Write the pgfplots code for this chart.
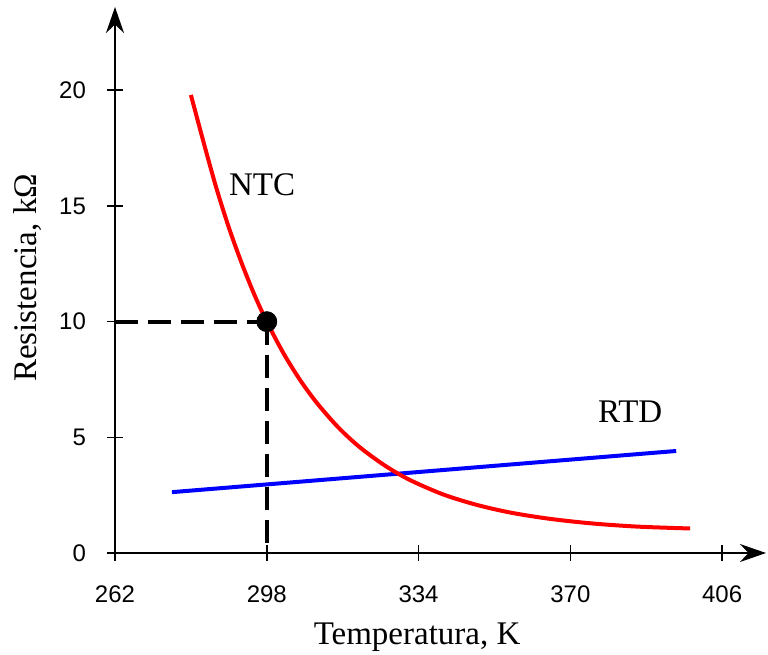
\documentclass[border=0pt]{standalone}
\usepackage{pgfplots}
\pgfplotsset{compat=1.18}
\usetikzlibrary{arrows.meta}
\usepackage{fontspec}
\setmainfont{Liberation Serif}
\newfontfamily\tickfont{Liberation Sans}

\begin{document}
\begin{tikzpicture}
\begin{axis}[
    scale only axis,
    width=325.5pt, height=273pt,
    xmin=262, xmax=416.4,
    ymin=0, ymax=23.6,
    axis lines=left,
    axis line style={line width=0.8pt, -{Stealth[length=13pt,width=9pt]}},
    xtick={262,298,334,370,406},
    ytick={0,5,10,15,20},
    tick align=center,
    major tick length=8pt,
    tick style={line width=0.8pt, black},
    /pgf/number format/assume math mode=true,
    ticklabel style={font=\tickfont\fontsize{12}{12}\selectfont},
    xticklabel style={yshift=-9pt},
    yticklabel style={xshift=-7pt},
    label style={font=\fontsize{16.5}{18}\selectfont},
    xlabel={Temperatura, K},
    ylabel={Resistencia, kΩ},
    xlabel style={at={(axis description cs:0.464,-0.155)}, anchor=center},
    ylabel style={at={(axis description cs:-0.134,0.504)}, anchor=center, rotate=0},
    clip=false,
]
% dashed guide lines
\addplot[black, line width=2pt, dash pattern=on 11.5pt off 5pt] coordinates {(262,10) (298,10)};
\addplot[black, line width=2pt, dash pattern=on 11.5pt off 5pt] coordinates {(298,10) (298,0)};
% RTD
\addplot[blue, line width=2pt] coordinates {(275.5,2.63) (395.1,4.41)};
% NTC
\addplot[red, line width=2pt, smooth] coordinates {
    (280,19.8) (283,17.76) (286,15.80) (289,14.07) (292,12.55) (295,11.19)
    (298,10) (302,8.62) (306,7.45) (310,6.46) (315,5.42) (320,4.58)
    (326,3.78) (332,3.15) (340,2.52) (348,2.07) (356,1.74) (365,1.48)
    (375,1.28) (386,1.14) (398.4,1.06)
};
% point
\addplot[only marks, mark=*, mark size=5pt, black] coordinates {(298,10)};
\node[font=\fontsize{16.5}{18}\selectfont] at (axis cs:296.9,15.9) {NTC};
\node[font=\fontsize{16.5}{18}\selectfont] at (axis cs:384.2,6.09) {RTD};
\end{axis}
\pgfresetboundingbox
\path[use as bounding box] (-57.5pt,-51pt) rectangle (326.5pt,276.5pt);
\end{tikzpicture}
\end{document}
